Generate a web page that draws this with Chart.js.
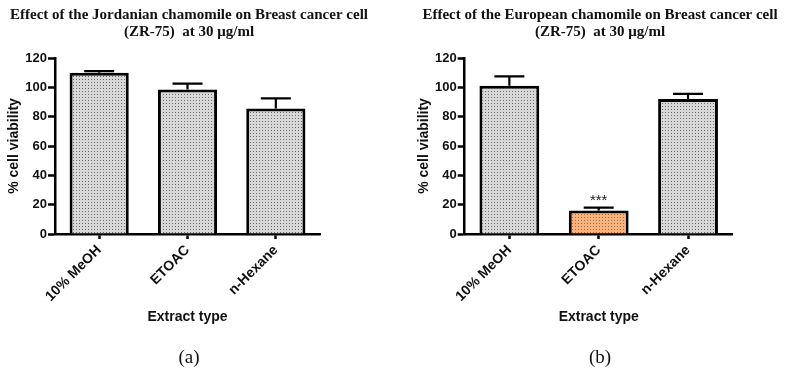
<!DOCTYPE html>
<html><head><meta charset="utf-8">
<script src="https://cdn.jsdelivr.net/npm/chart.js@4/dist/chart.umd.min.js"></script>
<style>
html,body{margin:0;padding:0;background:#fff;}
body{width:785px;height:373px;position:relative;overflow:hidden;}
#wa{position:absolute;left:0;top:0;width:378px;height:373px;}
#wb{position:absolute;left:415px;top:0;width:370px;height:373px;}
</style></head><body>
<div id="wa"><canvas id="ca"></canvas></div>
<div id="wb"><canvas id="cb"></canvas></div>
<script>
// ---- data ----
const categories = ['10% MeOH', 'ETOAC', 'n-Hexane'];
const jordanianViability = [110, 98.5, 85.5];
const jordanianSEM = [1, 4, 7];
const jordanianMarks = ['', '', ''];
const europeanViability = [101, 16, 92];
const europeanSEM = [6.5, 2, 3.5];
const europeanMarks = ['', '***', ''];
const yTicks = [0, 20, 40, 60, 80, 100, 120];
const titleA = ['Effect of the Jordanian chamomile on Breast cancer cell', '(ZR-75)  at 30 \u03bcg/ml'];
const titleB = ['Effect of the European chamomile on Breast cancer cell', '(ZR-75)  at 30 \u03bcg/ml'];
const yTitle = '% cell viability';
const xTitle = 'Extract type';
const panelA = '(a)';
const panelB = '(b)';

// ---- styling helpers ----
function dotPattern(bg, dot) {
  const c = document.createElement('canvas');
  c.width = 3; c.height = 3;
  const x = c.getContext('2d');
  x.fillStyle = bg; x.fillRect(0, 0, 3, 3);
  x.fillStyle = dot; x.fillRect(1, 1, 1, 1);
  return x.createPattern(c, 'repeat');
}
const greyFill = dotPattern('#d8d8d8', '#6a6a6a');
const orangeFill = dotPattern('#f8b47c', '#b06a3a');

const SANS = "'Liberation Sans', Arial, sans-serif";
const SERIF = "'Liberation Serif', 'Times New Roman', serif";

const errorBars = {
  id: 'errorBars',
  afterDatasetsDraw(chart) {
    const ctx = chart.ctx;
    const ys = chart.scales.y;
    const ds = chart.data.datasets[0];
    const meta = chart.getDatasetMeta(0);
    ctx.save();
    ctx.strokeStyle = '#000';
    ctx.lineWidth = 2.2;
    meta.data.forEach((bar, i) => {
      const v = ds.data[i], e = ds.errors[i];
      const yb = ys.getPixelForValue(v);
      const yt = ys.getPixelForValue(v + e);
      ctx.beginPath();
      ctx.moveTo(bar.x, yb); ctx.lineTo(bar.x, yt);
      ctx.moveTo(bar.x - 15, yt); ctx.lineTo(bar.x + 15, yt);
      ctx.stroke();
      if (ds.marks[i]) {
        ctx.fillStyle = '#222';
        ctx.font = '15px ' + SANS;
        ctx.textAlign = 'center';
        ctx.textBaseline = 'middle';
        ctx.fillText(ds.marks[i], bar.x, yt - 7);
      }
    });
    ctx.restore();
  }
};

function makeChart(id, values, errs, marks, fills, title, panel, yAxisW, rightW, yTitlePad) {
  return new Chart(document.getElementById(id), {
    type: 'bar',
    data: {
      labels: categories,
      datasets: [{
        data: values,
        errors: errs,
        marks: marks,
        backgroundColor: fills,
        borderColor: '#000',
        borderWidth: 3,
        borderSkipped: 'start',
        barPercentage: 0.67,
        categoryPercentage: 1.0
      }]
    },
    options: {
      responsive: true,
      maintainAspectRatio: false,
      animation: false,
      layout: { padding: 0 },
      plugins: {
        legend: { display: false },
        tooltip: { enabled: false },
        title: {
          display: true,
          text: title,
          color: '#111',
          font: { family: SERIF, size: 15, weight: 'bold', lineHeight: 17 / 15 },
          padding: { top: 6.5, bottom: 17.5 }
        },
        subtitle: {
          display: true,
          position: 'bottom',
          text: panel,
          color: '#111',
          font: { family: SERIF, size: 19, weight: 'normal', lineHeight: 1.1 },
          padding: { top: 0, bottom: 4.5 }
        }
      },
      scales: {
        x: {
          offset: true,
          border: { display: true, color: '#000', width: 2.5 },
          grid: { display: true, drawOnChartArea: false, drawTicks: true, tickLength: 5, tickColor: '#000', tickWidth: 2.5, offset: false },
          ticks: {
            color: '#111', font: { family: SANS, size: 14, weight: 'bold' },
            minRotation: 45, maxRotation: 45, padding: 3
          },
          title: {
            display: true, text: xTitle, color: '#111',
            font: { family: SANS, size: 14, weight: 'bold', lineHeight: 1.2 },
            padding: { top: 4, bottom: 22 }
          },
          afterFit(s) { s.height = 373 - 234 - 25.4; }
        },
        y: {
          min: 0, max: 120,
          afterBuildTicks(s) { s.ticks = yTicks.map(v => ({ value: v })); },
          border: { display: true, color: '#000', width: 2.5 },
          grid: { display: true, drawOnChartArea: false, drawTicks: true, tickLength: 7, tickColor: '#000', tickWidth: 2.5 },
          ticks: { color: '#111', font: { family: SANS, size: 13, weight: 'bold' }, padding: 1 },
          title: {
            display: true, text: yTitle, color: '#111',
            font: { family: SANS, size: 14, weight: 'bold', lineHeight: 1.2 },
            padding: { top: yTitlePad, bottom: 0 }
          },
          afterFit(s) { s.width = yAxisW; }
        },
        spacer: {
          type: 'linear', position: 'right', display: true,
          border: { display: false }, grid: { display: false }, ticks: { display: false },
          afterFit(s) { s.width = rightW; }
        }
      }
    },
    plugins: [errorBars]
  });
}

makeChart('ca', jordanianViability, jordanianSEM, jordanianMarks,
  [greyFill, greyFill, greyFill], titleA, panelA, 55, 58, 5.6);
makeChart('cb', europeanViability, europeanSEM, europeanMarks,
  [greyFill, orangeFill, greyFill], titleB, panelB, 49.7, 52.3, 1.2);
</script>
</body></html>
